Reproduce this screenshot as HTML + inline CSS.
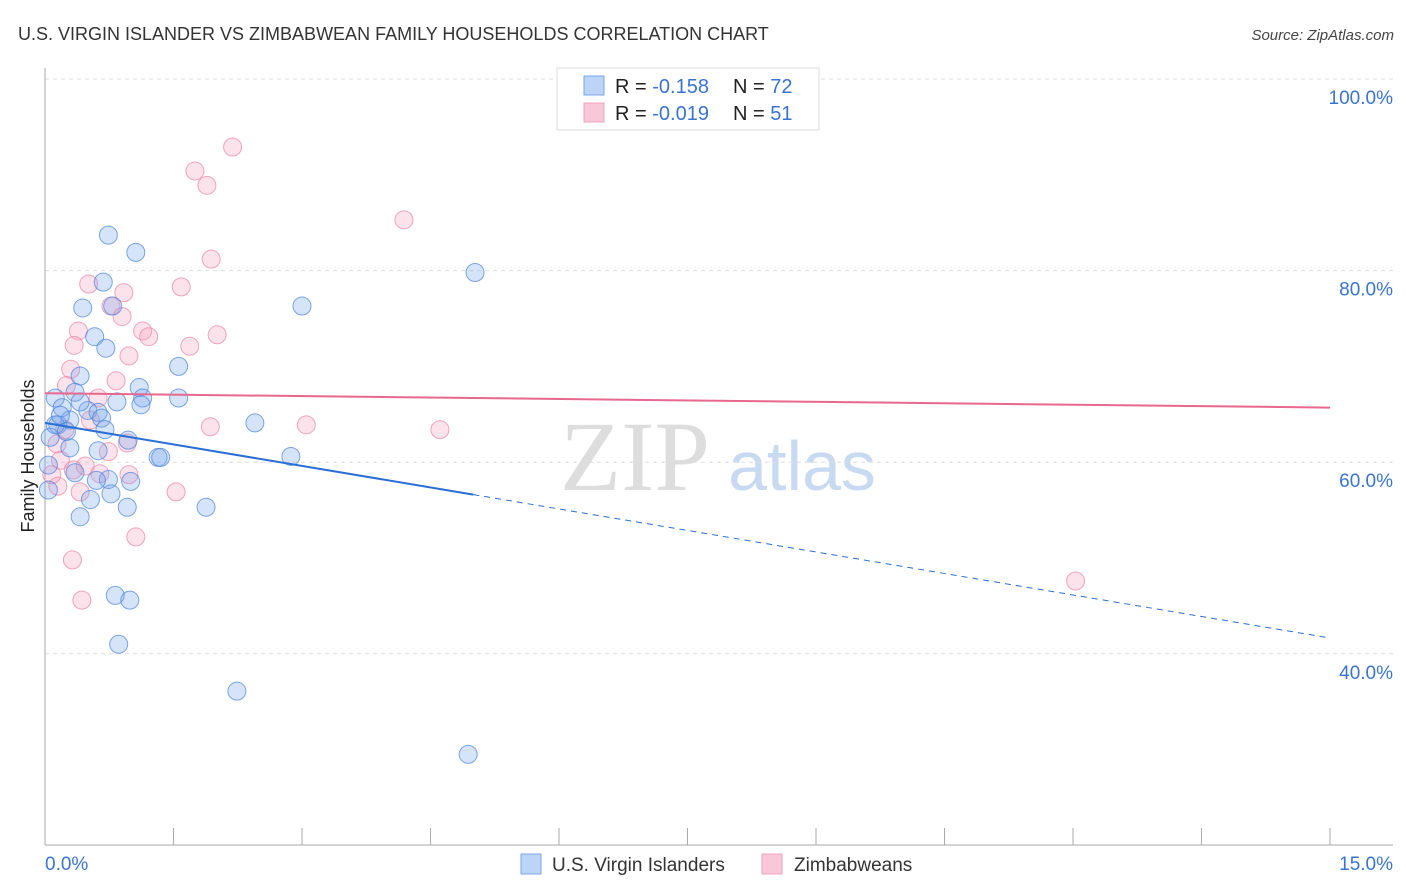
<!DOCTYPE html>
<html><head><meta charset="utf-8"><style>
body{margin:0;background:#fff;font-family:"Liberation Sans",sans-serif;}
#wrap{position:relative;width:1406px;height:892px;overflow:hidden;}
</style></head><body>
<div id="wrap">
<svg id="svg" width="1406" height="892" xmlns="http://www.w3.org/2000/svg">
<text x="18" y="40" font-size="18" fill="#333">U.S. VIRGIN ISLANDER VS ZIMBABWEAN FAMILY HOUSEHOLDS CORRELATION CHART</text>
<text x="1394" y="40" font-size="15" fill="#444" text-anchor="end" font-style="italic">Source: ZipAtlas.com</text>
<text x="635" y="490" font-size="100" fill="#ddd" text-anchor="middle" font-family="Liberation Serif,serif">ZIP</text>
<text x="802" y="490" font-size="70" fill="#c8daf2" text-anchor="middle">atlas</text>
<g id="grid"></g>
<g id="axes"></g>
<g id="pts"></g>
<g id="trend"></g>
<text transform="translate(34,456) rotate(-90)" font-size="18" fill="#222" text-anchor="middle">Family Households</text>
<g>
<rect x="557" y="68" width="262" height="62" fill="#fff" stroke="#ddd"/>
<rect x="584" y="76" width="20" height="19" fill="#bcd4f5" stroke="#7aa6e6"/>
<rect x="584" y="103" width="20" height="19" fill="#f9c8d8" stroke="#f0a0bc"/>
<text x="615" y="93" font-size="20" fill="#222">R = <tspan fill="#3a74d0">-0.158</tspan></text>
<text x="733" y="93" font-size="20" fill="#222">N = <tspan fill="#3a74d0">72</tspan></text>
<text x="615" y="120" font-size="20" fill="#222">R = <tspan fill="#3a74d0">-0.019</tspan></text>
<text x="733" y="120" font-size="20" fill="#222">N = <tspan fill="#3a74d0"> 51</tspan></text>
</g>
<g>
<rect x="521" y="854" width="20" height="20" fill="#bcd4f5" stroke="#7aa6e6"/>
<text x="552" y="871" font-size="19" fill="#333">U.S. Virgin Islanders</text>
<rect x="762" y="854" width="20" height="20" fill="#f9c8d8" stroke="#f0a0bc"/>
<text x="794" y="871" font-size="19" fill="#333">Zimbabweans</text>
</g>
</svg>
</div>
<script>
const yTicks=[100,80,60,40];
const yTickLabels=["100.0%","80.0%","60.0%","40.0%"];
const xTickCount=10;
const blueX=[0.74,1.06,0.68,0.44,0.79,0.58,0.71,1.56,0.41,1.10,1.14,1.12,1.56,0.84,0.35,0.12,0.20,0.50,0.62,0.41,0.66,0.29,0.15,0.25,0.06,0.70,0.97,2.45,0.62,0.29,1.32,1.35,2.87,0.35,0.74,0.60,1.00,0.77,0.53,0.96,1.88,0.41,0.04,0.04,0.82,0.99,0.86,2.24,4.94,3.00,5.02,0.12,0.18];
const blueY=[83.7,81.9,78.8,76.1,76.3,73.1,71.9,70.0,69.0,67.8,66.7,66.0,66.7,66.3,67.3,66.7,65.7,65.4,65.2,66.3,64.6,64.4,63.9,63.2,62.6,63.4,62.3,64.1,61.2,61.5,60.5,60.5,60.6,58.9,58.2,58.1,58.0,56.7,56.1,55.3,55.3,54.3,57.1,59.7,46.1,45.6,41.0,36.1,29.5,76.3,79.8,63.9,64.9];
const pinkX=[2.19,1.75,1.89,4.19,1.94,1.59,0.51,0.92,0.77,0.90,1.14,1.21,0.39,2.01,1.69,0.34,0.98,0.30,0.83,0.25,0.62,1.93,3.05,4.61,0.96,0.74,0.14,0.18,0.47,0.64,0.98,0.33,0.15,0.41,1.53,1.06,0.32,0.43,12.03,0.08,0.23,0.53];
const pinkY=[92.9,90.4,88.9,85.3,81.2,78.3,78.6,77.7,76.3,75.2,73.7,73.1,73.7,73.3,72.1,72.2,71.1,69.7,68.5,68.0,66.7,63.7,63.9,63.4,62.0,61.1,61.9,60.2,59.6,58.8,58.7,59.2,57.5,56.9,56.9,52.2,49.8,45.6,47.6,58.7,63.4,64.4];
const blueTrend=[64.1,41.65];
const blueSolidEnd=5.0;
const pinkTrend=[67.2,65.7];
const xMin=0,xMax=15;
const sx=v=>45+(v-xMin)/(xMax-xMin)*1285;
const sy=v=>79+(100-v)*9.58;
const NS="http://www.w3.org/2000/svg";
function mk(tag,attrs,parent){const e=document.createElementNS(NS,tag);for(const k in attrs)e.setAttribute(k,attrs[k]);document.getElementById(parent).appendChild(e);return e;}
yTicks.forEach((t,i)=>{
 const l=mk('line',{x1:45,x2:1393,y1:sy(t),y2:sy(t),stroke:'#ddd','stroke-dasharray':'4,4'},'grid');
 
 
 const tx=mk('text',{x:1393,y:sy(t)+25,'font-size':19,fill:'#3a74d0','text-anchor':'end'},'grid');
 tx.textContent=yTickLabels[i];
 
 
});
let a=mk('line',{x1:45,x2:45,y1:68,y2:845,stroke:'#aaa'},'axes');


a=mk('line',{x1:45,x2:1393,y1:845,y2:845,stroke:'#aaa'},'axes');


for(let i=0;i<=xTickCount;i++){
 const v=xMin+i*(xMax-xMin)/xTickCount;
 const t=mk('line',{x1:sx(v),x2:sx(v),y1:828,y2:845,stroke:'#aaa'},'axes');
 
 
}
let xl=mk('text',{x:45,y:870,'font-size':19,fill:'#3a74d0'},'axes');xl.textContent='0.0%';


xl=mk('text',{x:1393,y:870,'font-size':19,fill:'#3a74d0','text-anchor':'end'},'axes');xl.textContent='15.0%';


pinkX.forEach((x,i)=>{
 const c=mk('circle',{cx:sx(x),cy:sy(pinkY[i]),r:9,fill:'rgba(244,160,190,0.3)',stroke:'rgba(236,130,165,0.7)','stroke-width':1},'pts');
 
 
});
blueX.forEach((x,i)=>{
 const c=mk('circle',{cx:sx(x),cy:sy(blueY[i]),r:9,fill:'rgba(120,165,235,0.3)',stroke:'rgba(70,130,220,0.7)','stroke-width':1},'pts');
 
 
});
const by=v=>blueTrend[0]+(blueTrend[1]-blueTrend[0])*(v-xMin)/(xMax-xMin);
let l=mk('line',{x1:sx(xMin),y1:sy(by(xMin)),x2:sx(blueSolidEnd),y2:sy(by(blueSolidEnd)),stroke:'#2a6fd6','stroke-width':2},'trend');


l=mk('line',{x1:sx(blueSolidEnd),y1:sy(by(blueSolidEnd)),x2:sx(xMax),y2:sy(by(xMax)),stroke:'#2a6fd6','stroke-width':1,'stroke-dasharray':'6,5'},'trend');


l=mk('line',{x1:sx(xMin),y1:sy(pinkTrend[0]),x2:sx(xMax),y2:sy(pinkTrend[1]),stroke:'#e8688f','stroke-width':2},'trend');


</script>
</body></html>
